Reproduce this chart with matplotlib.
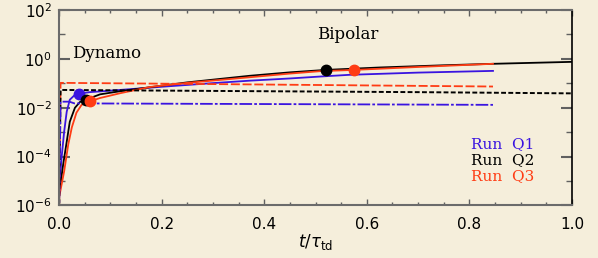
import numpy as np
import matplotlib.pyplot as plt
from matplotlib.ticker import FixedLocator, NullFormatter, MultipleLocator

# dados das curvas (log10 da energia)
t_q1 = [0.0, 0.002, 0.005, 0.01, 0.015, 0.021, 0.031, 0.039, 0.06, 0.1, 0.15, 0.2, 0.3, 0.372, 0.45, 0.51, 0.567, 0.626, 0.7, 0.846]
e_q1 = [-5.0, -4.86, -4.04, -2.98, -2.16, -1.67, -1.47, -1.42, -1.36, -1.3, -1.22, -1.14, -0.99, -0.89, -0.8, -0.72, -0.65, -0.61, -0.56, -0.49]

t_q2 = [0.0, 0.002, 0.008, 0.015, 0.021, 0.031, 0.041, 0.052, 0.08, 0.12, 0.177, 0.25, 0.372, 0.45, 0.52, 0.626, 0.75, 0.846, 1.0]
e_q2 = [-5.3, -5.27, -4.33, -3.39, -2.57, -2.0, -1.76, -1.67, -1.45, -1.32, -1.16, -0.96, -0.69, -0.55, -0.45, -0.35, -0.26, -0.2, -0.12]

t_q3 = [0.0, 0.002, 0.01, 0.018, 0.025, 0.034, 0.044, 0.06, 0.08, 0.12, 0.177, 0.25, 0.372, 0.45, 0.51, 0.575, 0.7, 0.846]
e_q3 = [-5.7, -5.47, -4.6, -3.5, -2.8, -2.2, -1.88, -1.74, -1.6, -1.4, -1.15, -0.98, -0.75, -0.6, -0.5, -0.45, -0.33, -0.2]

# curvas tracejadas
td_q1 = [0.0, 0.003, 0.02, 0.03, 0.3, 0.846]
d_q1 = [-6.5, -1.75, -1.75, -1.82, -1.84, -1.88]
td_q2 = [0.0, 0.003, 0.3, 0.7, 1.0]
d_q2 = [-6.5, -1.27, -1.31, -1.36, -1.41]
td_q3 = [0.0, 0.003, 0.3, 0.846]
d_q3 = [-6.5, -0.98, -1.03, -1.13]

# pontos marcados
dot_t = [0.038, 0.052, 0.060, 0.52, 0.575]
dot_e = [-1.45, -1.67, -1.74, -0.45, -0.45]
dot_c = ['blue', 'black', 'red', 'black', 'red']

bg = '#f5eedb'
cor = {'blue': '#3a14e0', 'black': 'black', 'red': '#ff3c14'}

fig = plt.figure(figsize=(5.98, 2.58), dpi=100, facecolor=bg)
ax = fig.add_axes([0.0987, 0.2035, 0.8578, 0.7575], facecolor=bg)

# linhas sólidas
for t, e, c in [(t_q1, e_q1, 'blue'), (t_q2, e_q2, 'black'), (t_q3, e_q3, 'red')]:
    ax.plot(t, 10 ** np.array(e), color=cor[c], lw=1.3)

# linhas tracejadas
ax.plot(td_q3, 10 ** np.array(d_q3), color=cor['red'], lw=1.3, ls=(0, (5, 1.5)))
ax.plot(td_q2, 10 ** np.array(d_q2), color='black', lw=1.4, ls=(0, (2.5, 1.2)))
ax.plot(td_q1, 10 ** np.array(d_q1), color=cor['blue'], lw=1.3, ls=(0, (7, 1.2, 1.5, 1.2)))

for t, e, c in zip(dot_t, dot_e, dot_c):
    ax.plot(t, 10 ** e, 'o', color=cor[c], ms=7.5, zorder=5)

ax.set_yscale('log')
ax.set_xlim(0, 1)
ax.set_ylim(1e-6, 1e2)

ax.yaxis.set_major_locator(FixedLocator([1e-6, 1e-4, 1e-2, 1e0, 1e2]))
ax.yaxis.set_minor_locator(FixedLocator([1e-5, 1e-3, 1e-1, 1e1]))
ax.yaxis.set_minor_formatter(NullFormatter())
ax.xaxis.set_major_locator(MultipleLocator(0.2))
ax.xaxis.set_minor_locator(MultipleLocator(0.05))
ax.xaxis.set_major_formatter(plt.FuncFormatter(lambda v, p: '%.1f' % v))

ax.tick_params(axis='both', which='both', direction='in', top=True, right=True,
               labelsize=11, colors='#606060', labelcolor='black')
ax.tick_params(axis='y', which='major', length=8, width=1.5, pad=5)
ax.tick_params(axis='y', which='minor', length=4, width=1)
ax.tick_params(axis='x', which='major', length=4, width=1, pad=8)
ax.tick_params(axis='x', which='minor', length=2.5, width=1)

for s in ['left', 'bottom', 'top']:
    ax.spines[s].set_color('#6b6b6b')
    ax.spines[s].set_linewidth(1.5)
ax.spines['right'].set_color('black')
ax.spines['right'].set_linewidth(1.2)

ax.set_xlabel(r'$t/\tau_{\rm td}$', fontsize=12, labelpad=0)

# anotações
ax.text(0.025, 1.7, 'Dynamo', fontsize=12, family='DejaVu Serif', va='center')
ax.text(0.563, 10, 'Bipolar', fontsize=12, family='DejaVu Serif', ha='center', va='center')
ax.text(0.803, 10 ** -3.5, 'Run  Q1', fontsize=11, family='DejaVu Serif', color=cor['blue'], va='center')
ax.text(0.803, 10 ** -4.15, 'Run  Q2', fontsize=11, family='DejaVu Serif', color='black', va='center')
ax.text(0.803, 10 ** -4.8, 'Run  Q3', fontsize=11, family='DejaVu Serif', color=cor['red'], va='center')

fig.savefig('out.png', dpi=100, facecolor=bg)
